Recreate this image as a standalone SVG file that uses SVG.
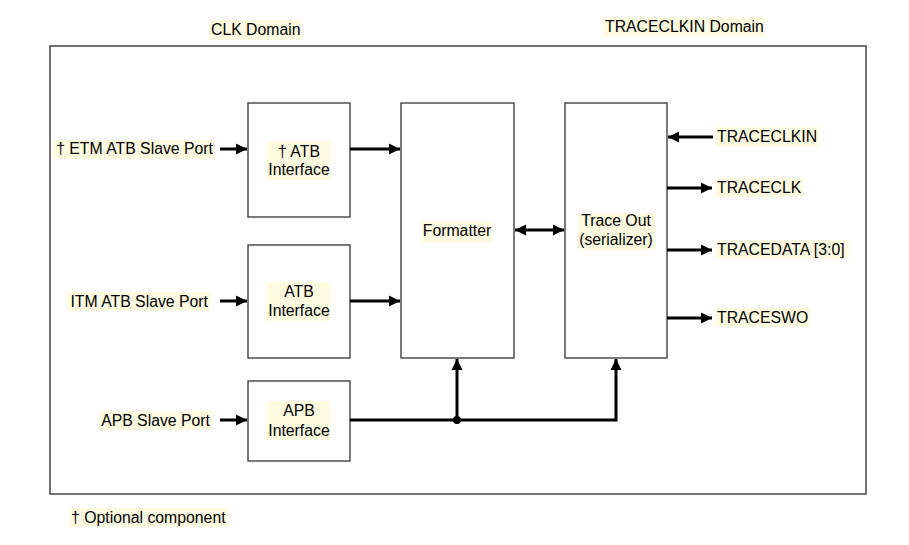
<svg xmlns="http://www.w3.org/2000/svg" width="909" height="545" viewBox="0 0 909 545">
<style>
text{font-family:"Liberation Sans",Arial,sans-serif;font-size:15.8px;fill:#000}
.c{text-anchor:middle}
.e{text-anchor:end}
.hl{fill:#fffbe0}
.box{fill:#fff;stroke:#333;stroke-width:1.3}
.frame{fill:none;stroke:#444;stroke-width:1.5}
.w{fill:none;stroke:#000;stroke-width:3}
</style>
<defs>
<marker id="ah" markerUnits="userSpaceOnUse" markerWidth="12" markerHeight="12" refX="11" refY="6" orient="auto-start-reverse">
<path d="M0,0.5 L11,6 L0,11.5 Z" fill="#000"/>
</marker>
</defs>
<rect width="909" height="545" fill="#fff"/>
<rect class="frame" x="50" y="46" width="816" height="448"/>
<g id="domain-labels">
<rect class="hl" x="209" y="20" width="92" height="20"/>
<text x="211" y="35">CLK Domain</text>
<rect class="hl" x="603" y="17" width="162" height="20"/>
<text x="605" y="32">TRACECLKIN Domain</text>
</g>
<g id="etm-atb-interface">
<rect class="box" x="248" y="103" width="102" height="114"/>
<rect class="hl" x="267" y="141" width="63" height="39"/>
<text class="c" x="299" y="157">† ATB</text>
<text class="c" x="299" y="175">Interface</text>
</g>
<g id="itm-atb-interface">
<rect class="box" x="248" y="245" width="102" height="113"/>
<rect class="hl" x="267" y="282" width="63" height="39"/>
<text class="c" x="299" y="297">ATB</text>
<text class="c" x="299" y="316">Interface</text>
</g>
<g id="apb-interface">
<rect class="box" x="248" y="381" width="102" height="80"/>
<rect class="hl" x="267" y="401" width="63" height="39"/>
<text class="c" x="299" y="416">APB</text>
<text class="c" x="299" y="436">Interface</text>
</g>
<g id="formatter">
<rect class="box" x="401" y="103" width="113" height="255"/>
<rect class="hl" x="422" y="221" width="70" height="21"/>
<text class="c" x="457" y="236">Formatter</text>
</g>
<g id="trace-out">
<rect class="box" x="565" y="103" width="102" height="255"/>
<rect class="hl" x="578" y="213" width="77" height="37"/>
<text class="c" x="616" y="226">Trace Out</text>
<text class="c" x="616" y="245">(serializer)</text>
</g>
<g id="port-labels">
<rect class="hl" x="53" y="140" width="162" height="19"/>
<text class="e" x="213" y="154">† ETM ATB Slave Port</text>
<rect class="hl" x="67" y="292" width="143" height="19"/>
<text class="e" x="208" y="307">ITM ATB Slave Port</text>
<rect class="hl" x="99" y="411" width="113" height="19"/>
<text class="e" x="210" y="426">APB Slave Port</text>
<rect class="hl" x="716" y="127" width="103" height="19"/>
<text x="717" y="142">TRACECLKIN</text>
<rect class="hl" x="716" y="178" width="87" height="19"/>
<text x="717" y="193">TRACECLK</text>
<rect class="hl" x="716" y="240" width="133" height="19"/>
<text x="717" y="255">TRACEDATA [3:0]</text>
<rect class="hl" x="716" y="308" width="94" height="19"/>
<text x="717" y="323">TRACESWO</text>
<rect class="hl" x="69" y="508" width="159" height="19"/>
<text x="71" y="523">† Optional component</text>
</g>
<g id="connectors">
<line class="w" x1="220" y1="149" x2="247" y2="149" marker-end="url(#ah)"/>
<line class="w" x1="350" y1="149" x2="400" y2="149" marker-end="url(#ah)"/>
<line class="w" x1="220" y1="301" x2="247" y2="301" marker-end="url(#ah)"/>
<line class="w" x1="350" y1="301" x2="400" y2="301" marker-end="url(#ah)"/>
<line class="w" x1="220" y1="420" x2="247" y2="420" marker-end="url(#ah)"/>
<polyline class="w" points="350,420 616,420 616,359" marker-end="url(#ah)"/>
<line class="w" x1="457" y1="420" x2="457" y2="359" marker-end="url(#ah)"/>
<circle cx="457" cy="420" r="4" fill="#000"/>
<line class="w" x1="515" y1="230" x2="564" y2="230" marker-start="url(#ah)" marker-end="url(#ah)"/>
<line class="w" x1="713" y1="137" x2="668" y2="137" marker-end="url(#ah)"/>
<line class="w" x1="667" y1="188" x2="712" y2="188" marker-end="url(#ah)"/>
<line class="w" x1="667" y1="250" x2="712" y2="250" marker-end="url(#ah)"/>
<line class="w" x1="667" y1="318" x2="712" y2="318" marker-end="url(#ah)"/>
</g>
</svg>
